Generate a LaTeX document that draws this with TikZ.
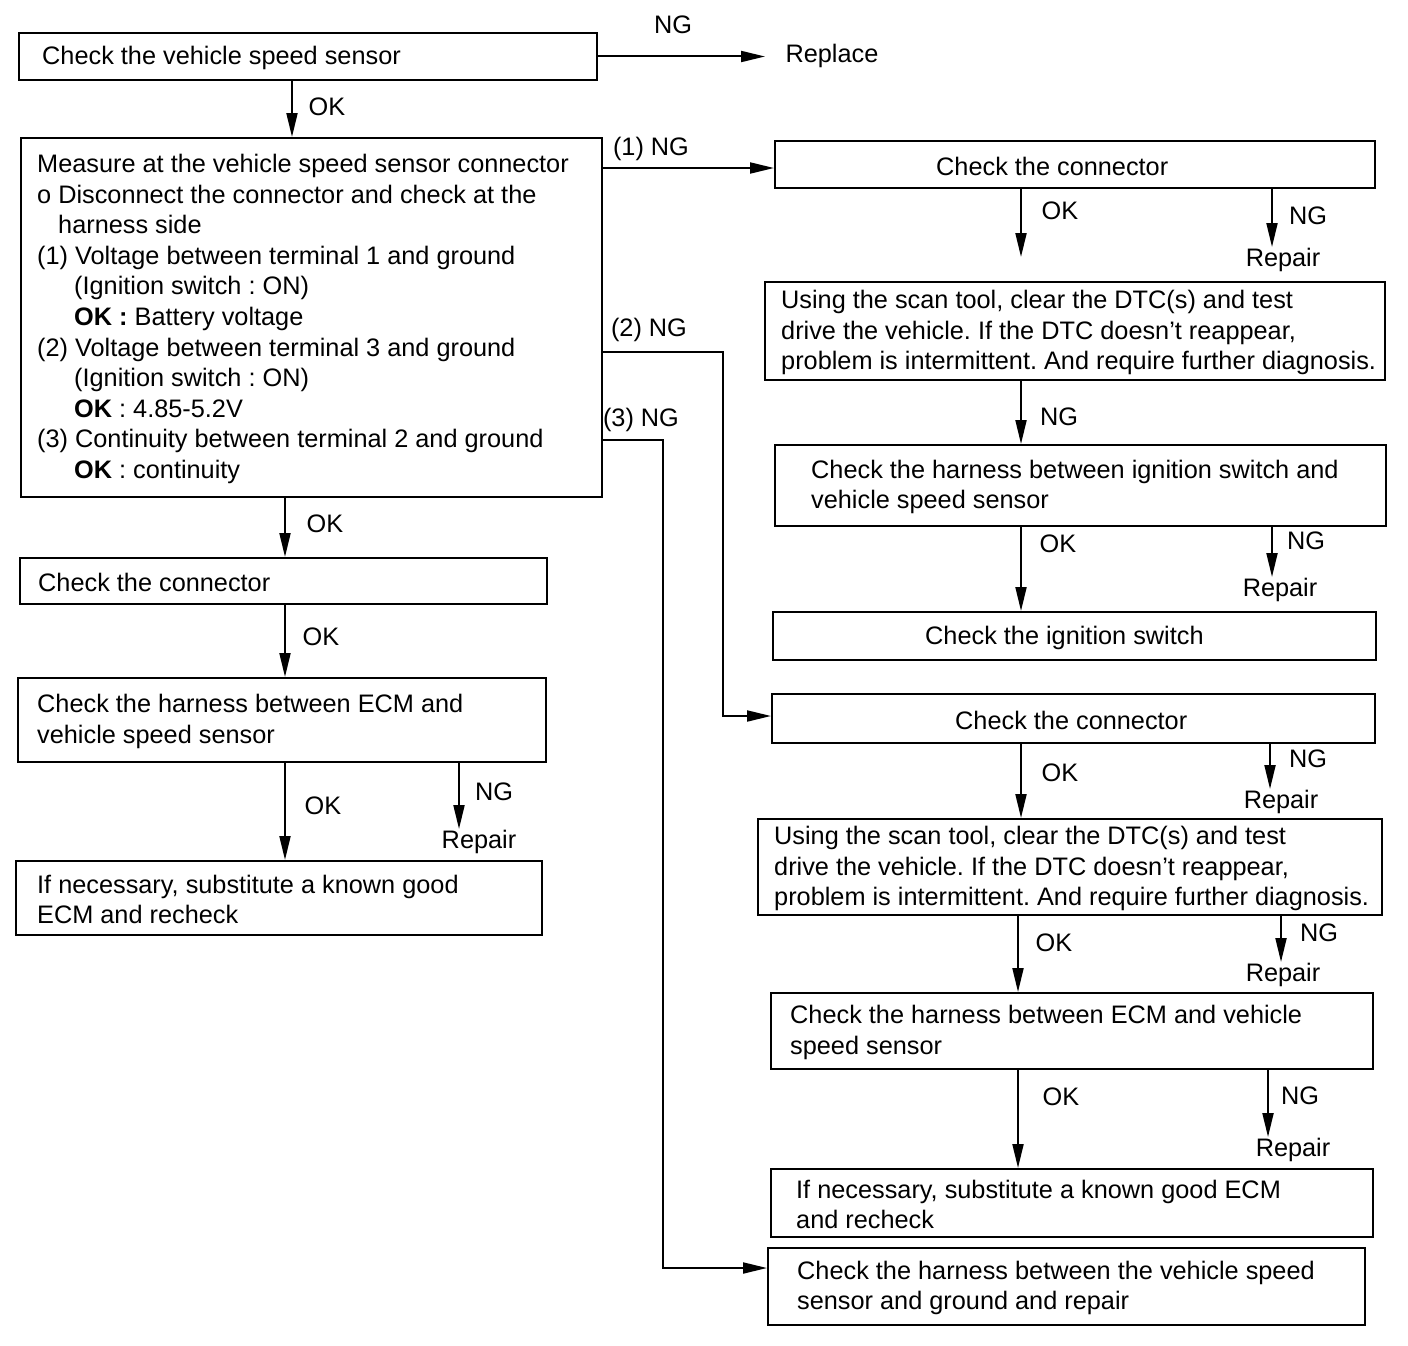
\documentclass[tikz,border=0pt]{standalone}
\usepackage{fontspec}
\setmainfont{Liberation Sans}
\usetikzlibrary{arrows.meta}
\frenchspacing
\tikzset{
 box/.style={draw, line width=2pt, rectangle, inner sep=0pt},
 txt/.style={align=left, inner sep=0pt, font=\fontsize{25.3}{30.6}\selectfont},
 lbl/.style={inner sep=1pt, font=\fontsize{25.3}{30.6}\selectfont},
 arr/.style={line width=2pt, -{Triangle[length=24pt,width=11pt]}},
 ln/.style={line width=2pt}
}
\newcommand\bx[7]{%
 \node[box, minimum width={#4-#2}, minimum height={#5-#3}] (#1) at ({(#2+#4)/2},{(#3+#5)/2}) {};
 \node[txt, anchor=west] (#1t) at (#6,{(#3+#5)/2+1.5}) {#7};}
\begin{document}
\begin{tikzpicture}[x=1pt,y=-1pt]
\useasboundingbox (0,0) rectangle (1408,1346);
% boxes
\bx{A}{19}{33}{597}{80}{42}{Check the vehicle speed sensor}
\bx{B}{21}{138}{602}{497}{37}{Measure at the vehicle speed sensor connector\\
o Disconnect the connector and check at the\\
\hspace*{21pt}harness side\\
(1) Voltage between terminal 1 and ground\\
\hspace*{37pt}(Ignition switch : ON)\\
\hspace*{37pt}\textbf{OK :} Battery voltage\\
(2) Voltage between terminal 3 and ground\\
\hspace*{37pt}(Ignition switch : ON)\\
\hspace*{37pt}\textbf{OK} : 4.85-5.2V\\
(3) Continuity between terminal 2 and ground\\
\hspace*{37pt}\textbf{OK} : continuity}
\bx{L1}{20}{558}{547}{604}{38}{Check the connector}
\bx{L2}{18}{678}{546}{762}{37}{Check the harness between ECM and\\vehicle speed sensor}
\bx{L3}{16}{861}{542}{935}{37}{If necessary, substitute a known good\\ECM and recheck}
\bx{C1}{775}{141}{1375}{188}{936}{Check the connector}
\bx{C2}{765}{282}{1385}{380}{781}{Using the scan tool, clear the DTC(s) and test\\drive the vehicle. If the DTC doesn't reappear,\\problem is intermittent. And require further diagnosis.}
\bx{C3}{775}{445}{1386}{526}{811}{Check the harness between ignition switch and\\vehicle speed sensor}
\bx{C4}{773}{612}{1376}{660}{925}{Check the ignition switch}
\bx{C5}{772}{694}{1375}{743}{955}{Check the connector}
\bx{C6}{758}{819}{1382}{915}{774}{Using the scan tool, clear the DTC(s) and test\\drive the vehicle. If the DTC doesn't reappear,\\problem is intermittent. And require further diagnosis.}
\bx{C7}{771}{993}{1373}{1069}{790}{Check the harness between ECM and vehicle\\speed sensor}
\bx{C8}{771}{1169}{1373}{1237}{796}{If necessary, substitute a known good ECM\\and recheck}
\bx{C9}{768}{1248}{1365}{1325}{797}{Check the harness between the vehicle speed\\sensor and ground and repair}
% labels
\node[lbl] (ngA) at (673,25) {NG};
\node[lbl] (repl) at (832,56) {Replace};
\node[lbl] (okA) at (327,107) {OK};
\node[lbl] (ng1) at (651,149) {(1) NG};
\node[lbl] (ng2) at (649,330) {(2) NG};
\node[lbl] (ng3) at (641,420) {(3) NG};
\node[lbl] (okB) at (325,524) {OK};
\node[lbl] (okL1) at (321,637) {OK};
\node[lbl] (okL2) at (323,806) {OK};
\node[lbl] (ngL2) at (494,792) {NG};
\node[lbl] (repL2) at (479,842) {Repair};
\node[lbl] (okC1) at (1060,211) {OK};
\node[lbl] (ngC1) at (1308,216) {NG};
\node[lbl] (repC1) at (1283,260) {Repair};
\node[lbl] (ngC2) at (1059,417) {NG};
\node[lbl] (okC3) at (1058,544) {OK};
\node[lbl] (ngC3) at (1306,541) {NG};
\node[lbl] (repC3) at (1280,590) {Repair};
\node[lbl] (okC5) at (1060,773) {OK};
\node[lbl] (ngC5) at (1308,759) {NG};
\node[lbl] (repC5) at (1281,802) {Repair};
\node[lbl] (okC6) at (1054,943) {OK};
\node[lbl] (ngC6) at (1319,933) {NG};
\node[lbl] (repC6) at (1283,975) {Repair};
\node[lbl] (okC7) at (1061,1097) {OK};
\node[lbl] (ngC7) at (1300,1096) {NG};
\node[lbl] (repC7) at (1293,1150) {Repair};
% connectors
\draw[arr] (A.east) -- (A.east -| 765,0);
\draw[arr] (A.south -| 292,0) -- (B.north -| 292,0);
\draw[arr] (B.east |- 0,168) -- (C1.west |- 0,168);
\coordinate (k2) at (723,352);
\draw[arr] (B.east |- k2) -- (k2) -- (k2 |- 0,716) -- (C5.west |- 0,716);
\coordinate (k3) at (663,440);
\draw[arr] (B.east |- k3) -- (k3) -- (k3 |- 0,1268) -- (C9.west |- 0,1268);
\draw[arr] (B.south -| 285,0) -- (L1.north -| 285,0);
\draw[arr] (L1.south -| 285,0) -- (L2.north -| 285,0);
\draw[arr] (L2.south -| 285,0) -- (L3.north -| 285,0);
\draw[arr] (L2.south -| 459,0) -- (repL2.north -| 459,0);
\draw[arr, shorten >=24pt] (C1.south -| 1021,0) -- (C2.north -| 1021,0);
\draw[arr] (C1.south -| 1272,0) -- (repC1.north -| 1272,0);
\draw[arr] (C2.south -| 1021,0) -- (C3.north -| 1021,0);
\draw[arr] (C3.south -| 1021,0) -- (C4.north -| 1021,0);
\draw[arr] (C3.south -| 1272,0) -- (repC3.north -| 1272,0);
\draw[arr] (C5.south -| 1021,0) -- (C6.north -| 1021,0);
\draw[arr] (C5.south -| 1270,0) -- (repC5.north -| 1270,0);
\draw[arr] (C6.south -| 1018,0) -- (C7.north -| 1018,0);
\draw[arr] (C6.south -| 1281,0) -- (repC6.north -| 1281,0);
\draw[arr] (C7.south -| 1018,0) -- (C8.north -| 1018,0);
\draw[arr] (C7.south -| 1268,0) -- (repC7.north -| 1268,0);
\end{tikzpicture}
\end{document}
